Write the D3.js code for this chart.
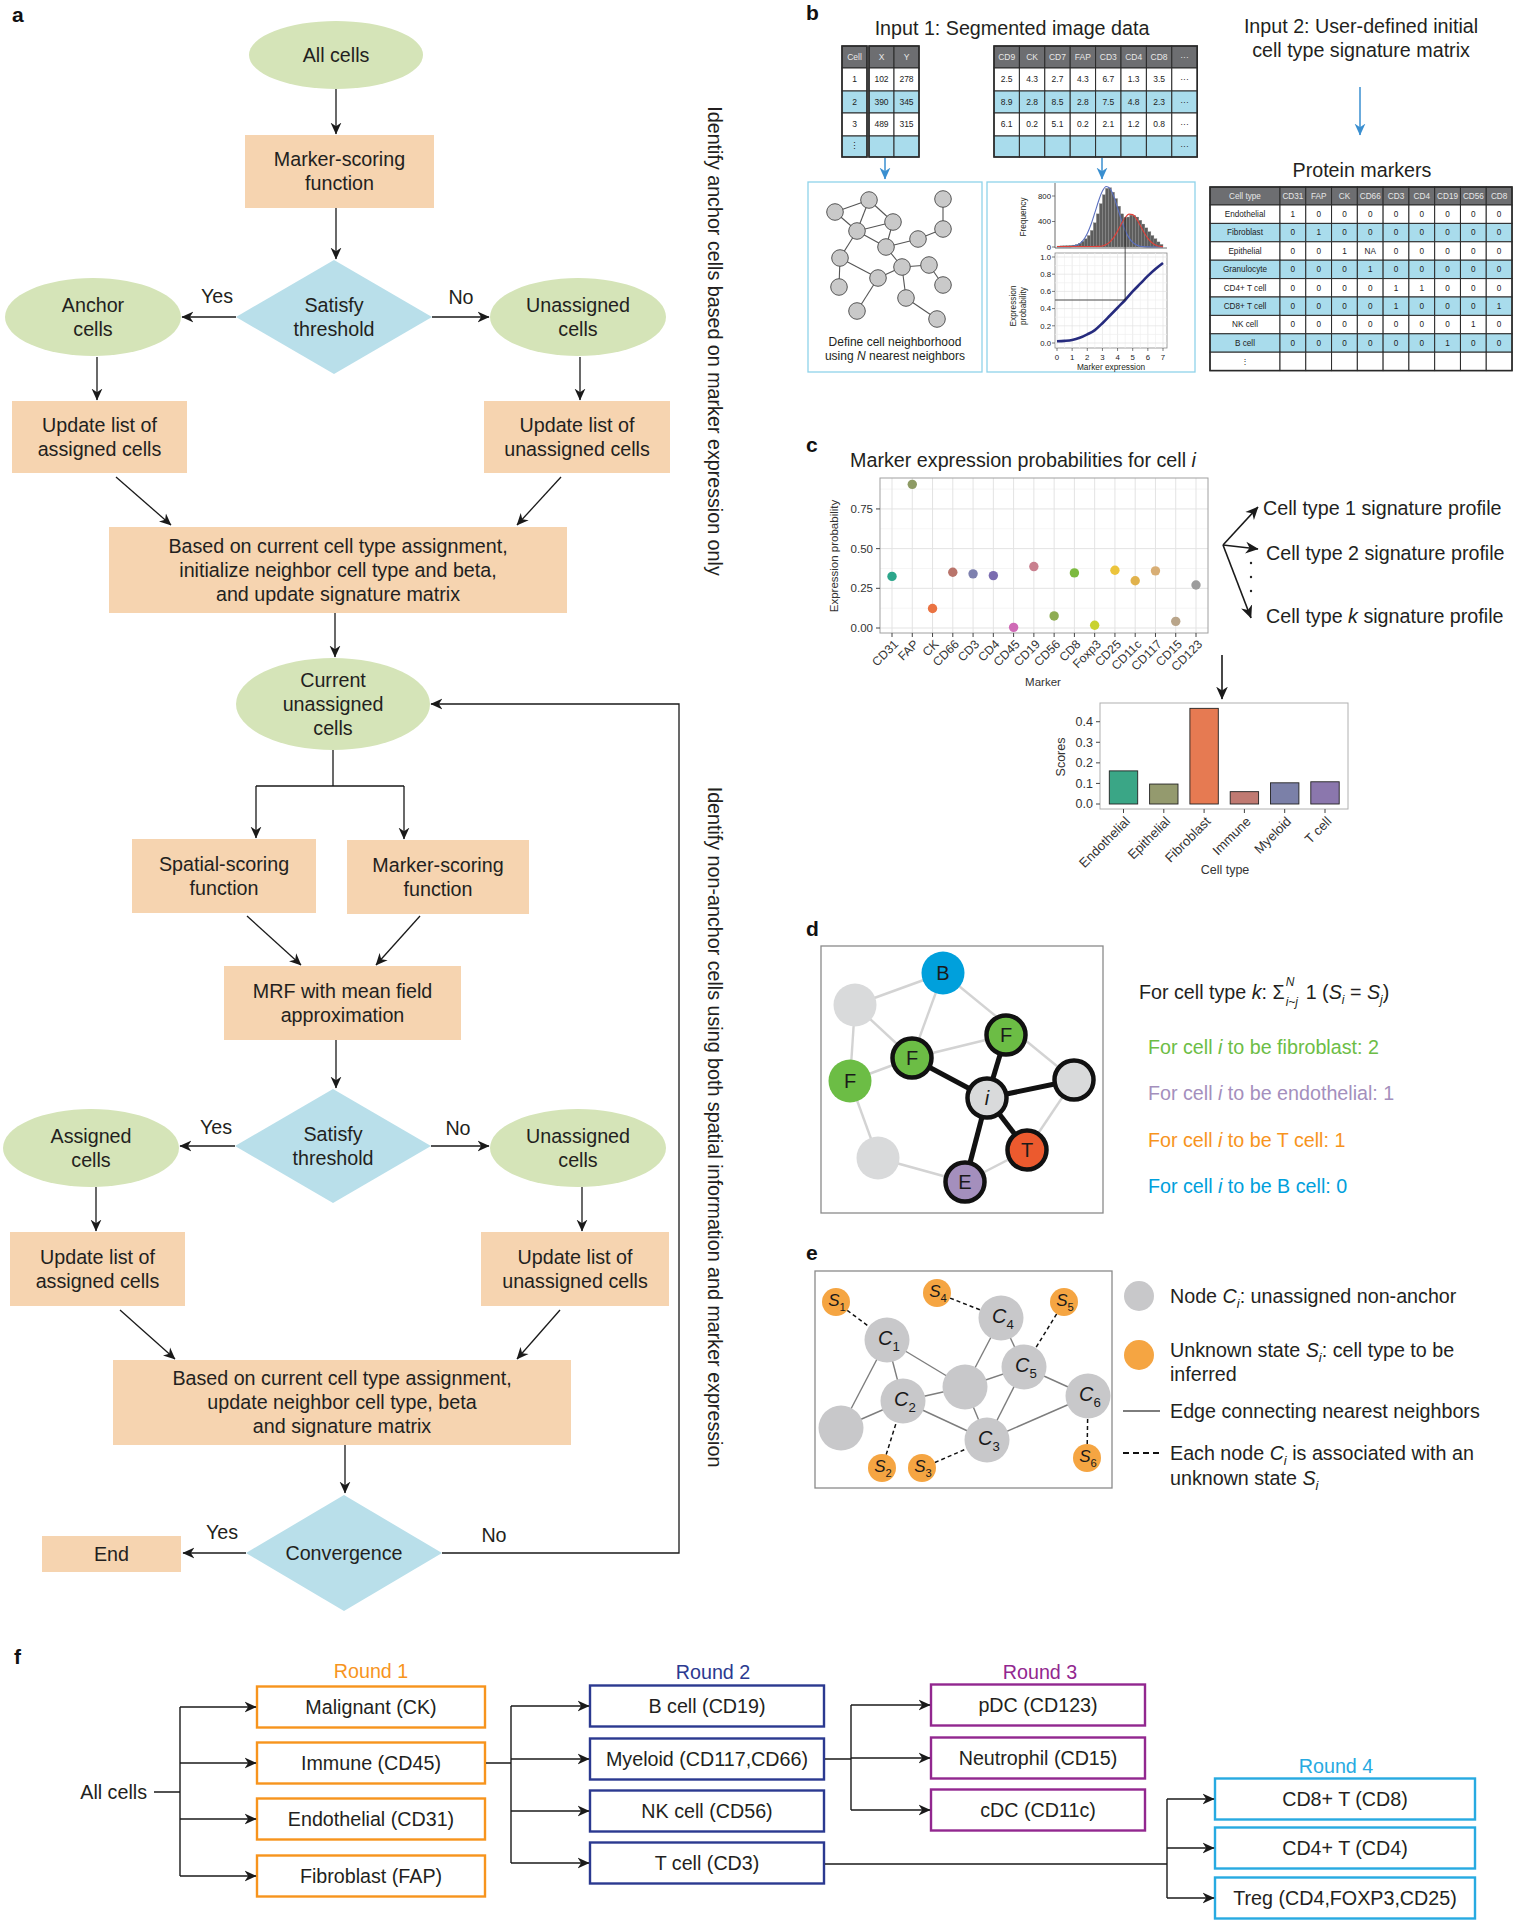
<!DOCTYPE html>
<html><head><meta charset="utf-8">
<script src="https://cdn.jsdelivr.net/npm/d3@7"></script>
<style>body{margin:0;background:#fff}svg{display:block}text{font-family:"Liberation Sans",Arial,Helvetica,sans-serif}</style>
</head><body><svg id="fig" width="1514" height="1920"></svg>
<script>
// ================= DATA =================
const segCellIds = ["1","2","3"];
const segXY = [[102,278],[390,345],[489,315]];
const segMarkers = ["CD9","CK","CD7","FAP","CD3","CD4","CD8","···"];
const segValues = [[2.5,4.3,2.7,4.3,6.7,1.3,3.5],[8.9,2.8,8.5,2.8,7.5,4.8,2.3],[6.1,0.2,5.1,0.2,2.1,1.2,0.8]];
const sigMarkers = ["CD31","FAP","CK","CD66","CD3","CD4","CD19","CD56","CD8"];
const sigTypes = ["Endothelial","Fibroblast","Epithelial","Granulocyte","CD4+ T cell","CD8+ T cell","NK cell","B cell"];
const sigMatrix = [
  ["1","0","0","0","0","0","0","0","0"],
  ["0","1","0","0","0","0","0","0","0"],
  ["0","0","1","NA","0","0","0","0","0"],
  ["0","0","0","1","0","0","0","0","0"],
  ["0","0","0","0","1","1","0","0","0"],
  ["0","0","0","0","1","0","0","0","1"],
  ["0","0","0","0","0","0","0","1","0"],
  ["0","0","0","0","0","0","1","0","0"]];
const histStarts = [0,0.2,0.4,0.6,0.8,1.0,1.2,1.4,1.6,1.8,2.0,2.2,2.4,2.6,2.8,3.0,3.2,3.4,3.6,3.8,4.0,4.2,4.4,4.6,4.8,5.0,5.2,5.4,5.6,5.8,6.0,6.2,6.4,6.6,6.8];
const histCounts = [15,18,20,22,25,30,40,60,90,130,180,260,380,520,680,820,920,930,860,760,640,520,460,470,500,495,470,420,360,300,240,180,130,80,40];
const fitX = [0,0.25,0.5,0.75,1,1.25,1.5,1.75,2,2.25,2.5,2.75,3,3.25,3.5,3.75,4,4.25,4.5,4.75,5,5.25,5.5,5.75,6,6.25,6.5,6.75,7];
const blueFit = [4,4,5,6,10,23,53,112,212,356,538,726,877,948,917,794,614,426,264,147,73,32,13,5,2,1,1,1,1];
const redFit = [8,8,8,8,8,8,8,8,8,8,9,10,16,38,81,151,249,360,459,515,508,442,338,227,135,70,32,13,6];
const probX = [0,0.5,1,1.5,2,2.5,3,3.5,4,4.5,5,5.5,6,6.5,7];
const probY = [0.02,0.025,0.035,0.06,0.1,0.15,0.23,0.32,0.41,0.5,0.6,0.69,0.78,0.86,0.93];
const markers = ["CD31","FAP","CK","CD66","CD3","CD4","CD45","CD19","CD56","CD8","Foxp3","CD25","CD11c","CD117","CD15","CD123"];
const markerProb = [0.325,0.905,0.123,0.351,0.341,0.330,0.004,0.387,0.076,0.347,0.017,0.364,0.298,0.360,0.042,0.271];
const markerColors = ["#2ca68b","#8d9a64","#ea7343","#b9746b","#7d80ae","#7b6cb0","#cf6ab6","#c9808f","#8eac52","#7cba3f","#c9d22e","#ecc43b","#e1b24c","#d8ae75","#b9a58a","#9c9c9c"];
const scoreTypes = ["Endothelial","Epithelial","Fibroblast","Immune","Myeloid","T cell"];
const scores = [0.161,0.097,0.465,0.060,0.103,0.108];
const scoreColors = ["#3aa686","#949a6e","#e67a52","#c07a72","#7b80a8","#8b77ad"];
const dCounts = [["fibroblast",2],["endothelial",1],["T cell",1],["B cell",0]];
const dColors = ["#6cbd45","#a48fbd","#f7941d","#00a0dc"];
const round1 = ["Malignant (CK)","Immune (CD45)","Endothelial (CD31)","Fibroblast (FAP)"];
const round2 = ["B cell (CD19)","Myeloid (CD117,CD66)","NK cell (CD56)","T cell (CD3)"];
const round3 = ["pDC (CD123)","Neutrophil (CD15)","cDC (CD11c)"];
const round4 = ["CD8+ T (CD8)","CD4+ T (CD4)","Treg (CD4,FOXP3,CD25)"];

// ================= HELPERS =================
const FS = 19.7;
const svg = d3.select("#fig");
svg.append("rect").attr("width",1514).attr("height",1920).attr("fill","#fff");
const defs = svg.append("defs");
function mkArrow(id,color,size){
  defs.append("marker").attr("id",id).attr("viewBox","0 0 10 10").attr("refX",9.5).attr("refY",5)
    .attr("markerWidth",size).attr("markerHeight",size).attr("markerUnits","userSpaceOnUse").attr("orient","auto")
    .append("path").attr("d","M0,0.5 L10,5 L0,9.5 L3,5 Z").attr("fill",color);
}
mkArrow("ah","#1a1a1a",12); mkArrow("ahb","#3a8fd0",12); mkArrow("ahs","#1a1a1a",13);
const TXT="#231f20";
function mtext(g,x,y,lines,o={}){
  const size=o.size||FS, lh=o.lh||24;
  const t=g.append("text").attr("x",x).attr("y",y).attr("text-anchor",o.anchor||"middle")
    .attr("font-size",size).attr("fill",o.fill||TXT);
  if(o.rotate!==undefined) t.attr("transform",`rotate(${o.rotate},${x},${y})`);
  const n=lines.length;
  lines.forEach((l,i)=>t.append("tspan").attr("x",x).attr("y",y+(i-(n-1)/2)*lh).attr("dy","0.35em").text(l));
  return t;
}
function arrow(g,pts,o={}){
  return g.append("path").attr("d",d3.line()(pts)).attr("fill","none").attr("stroke",o.color||"#1a1a1a")
    .attr("stroke-width",o.w||1.3).attr("marker-end",`url(#${o.marker||"ah"})`);
}
function label(x,y,s){ svg.append("text").attr("x",x).attr("y",y).attr("font-size",21).attr("font-weight","bold").attr("fill","#111").text(s); }

// ================= PANEL A =================
const ga = svg.append("g");
const peach="#f6d4b0", lgreen="#d5e4b8", lblue="#b9dfea";
function rectNode(x,y,w,h,lines){ ga.append("rect").attr("x",x).attr("y",y).attr("width",w).attr("height",h).attr("fill",peach); mtext(ga,x+w/2,y+h/2,lines); }
function ellNode(cx,cy,rx,ry,lines){ ga.append("ellipse").attr("cx",cx).attr("cy",cy).attr("rx",rx).attr("ry",ry).attr("fill",lgreen); mtext(ga,cx,cy,lines); }
function diaNode(cx,cy,hw,hh,lines){ ga.append("path").attr("d",`M${cx},${cy-hh}L${cx+hw},${cy}L${cx},${cy+hh}L${cx-hw},${cy}Z`).attr("fill",lblue); mtext(ga,cx,cy,lines); }
label(12,22,"a");
ellNode(336,55,87,34,["All cells"]);
rectNode(245,135,189,73,["Marker-scoring","function"]);
diaNode(334,317,98,57,["Satisfy","threshold"]);
ellNode(93,317,88,39,["Anchor","cells"]);
ellNode(578,317,88,39,["Unassigned","cells"]);
rectNode(12,401,175,72,["Update list of","assigned cells"]);
rectNode(484,401,186,72,["Update list of","unassigned cells"]);
rectNode(109,527,458,86,["Based on current cell type assignment,","initialize neighbor cell type and beta,","and update signature matrix"]);
ellNode(333,704,97,46,["Current","unassigned","cells"]);
rectNode(132,839,184,74,["Spatial-scoring","function"]);
rectNode(347,840,182,74,["Marker-scoring","function"]);
rectNode(224,966,237,74,["MRF with mean field","approximation"]);
diaNode(333,1146,98,57,["Satisfy","threshold"]);
ellNode(91,1148,88,39,["Assigned","cells"]);
ellNode(578,1148,88,39,["Unassigned","cells"]);
rectNode(10,1232,175,74,["Update list of","assigned cells"]);
rectNode(481,1232,188,74,["Update list of","unassigned cells"]);
rectNode(113,1360,458,85,["Based on current cell type assignment,","update neighbor cell type, beta","and signature matrix"]);
diaNode(344,1553,98,58,["Convergence"]);
rectNode(42,1536,139,36,["End"]);
mtext(ga,217,296,["Yes"]); mtext(ga,461,297,["No"]);
mtext(ga,216,1127,["Yes"]); mtext(ga,458,1128,["No"]);
mtext(ga,222,1532,["Yes"]); mtext(ga,494,1535,["No"]);
arrow(ga,[[336,89],[336,134]]);
arrow(ga,[[336,208],[336,259]]);
arrow(ga,[[236,317],[182,317]]);
arrow(ga,[[432,317],[489,317]]);
arrow(ga,[[97,357],[97,400]]);
arrow(ga,[[580,357],[580,400]]);
arrow(ga,[[116,477],[171,525]]);
arrow(ga,[[561,477],[517,525]]);
arrow(ga,[[335,613],[335,657]]);
ga.append("path").attr("d","M333,750V786M256,786H404").attr("stroke","#1a1a1a").attr("stroke-width",1.3).attr("fill","none");
arrow(ga,[[256,786],[256,838]]);
arrow(ga,[[404,786],[404,839]]);
arrow(ga,[[247,916],[301,965]]);
arrow(ga,[[420,916],[376,965]]);
arrow(ga,[[336,1040],[336,1088]]);
arrow(ga,[[235,1146],[180,1146]]);
arrow(ga,[[431,1146],[489,1146]]);
arrow(ga,[[96,1187],[96,1231]]);
arrow(ga,[[582,1187],[582,1231]]);
arrow(ga,[[120,1310],[175,1359]]);
arrow(ga,[[560,1310],[517,1359]]);
arrow(ga,[[345,1445],[345,1493]]);
arrow(ga,[[246,1553],[183,1553]]);
arrow(ga,[[442,1553],[679,1553],[679,704],[431,704]]);
mtext(ga,715,341,["Identify anchor cells based on marker expression only"],{rotate:90});
mtext(ga,715,1127,["Identify non-anchor cells using both spatial information and marker expression"],{rotate:90});

// ================= PANEL B =================
const gb = svg.append("g");
label(806,20,"b");
mtext(gb,1012,28,["Input 1: Segmented image data"]);
mtext(gb,1361,38,["Input 2: User-defined initial","cell type signature matrix"],{lh:24});
mtext(gb,1362,170,["Protein markers"]);
arrow(gb,[[1360,87],[1360,135]],{color:"#3a8fd0",marker:"ahb",w:1.5});
const hdrFill="#6d6e71", rowBlue="#a9dcec", gridC="#2a2a2a";
const rowsY=[46,68,91,113,136,157];
function drawTable(g,xEdges,yEdges,header,rows,blueRows,o={}){
  const fs=o.fs||8.5;
  yEdges.slice(0,-1).forEach((y0,ri)=>{
    const y1=yEdges[ri+1];
    xEdges.slice(0,-1).forEach((x0,ci)=>{
      const x1=xEdges[ci+1];
      const fill = ri===0?hdrFill:(blueRows.includes(ri)?rowBlue:"#fff");
      g.append("rect").attr("x",x0).attr("y",y0).attr("width",x1-x0).attr("height",y1-y0).attr("fill",fill).attr("stroke",gridC).attr("stroke-width",1);
      const txt = ri===0?header[ci]:(rows[ri-1]?rows[ri-1][ci]:"");
      if(txt) g.append("text").attr("x",(x0+x1)/2).attr("y",(y0+y1)/2).attr("dy","0.35em").attr("text-anchor","middle")
        .attr("font-size",fs).attr("fill",ri===0?"#e8e8e8":"#222").text(txt);
    });
  });
  g.append("rect").attr("x",xEdges[0]).attr("y",yEdges[0]).attr("width",xEdges[xEdges.length-1]-xEdges[0]).attr("height",yEdges[yEdges.length-1]-yEdges[0]).attr("fill","none").attr("stroke",gridC).attr("stroke-width",1.6);
}
drawTable(gb,[842,867],rowsY,["Cell"],segCellIds.map(d=>[d]).concat([["⋮"]]),[2,4],{fs:8.5});
drawTable(gb,[869,894,919],rowsY,["X","Y"],segXY.map(r=>r.map(String)).concat([["",""]]),[2,4],{fs:8.5});
const fmt1=d3.format(".1f");
const segX=d3.range(9).map(i=>994+i*25.4);
drawTable(gb,segX,rowsY,segMarkers,segValues.map(r=>r.map(fmt1).concat(["···"])).concat([["","","","","","","","···"]]),[2,4],{fs:8.5});
arrow(gb,[[885,158],[885,179]],{color:"#3a8fd0",marker:"ahb",w:1.5});
arrow(gb,[[1102,158],[1102,179]],{color:"#3a8fd0",marker:"ahb",w:1.5});
const sigX=[1210,1280].concat(d3.range(1,10).map(i=>1280+i*25.78));
const sigY=[187].concat(d3.range(0,10).map(i=>205+i*18.4));
drawTable(gb,sigX,sigY,["Cell type"].concat(sigMarkers),sigTypes.map((t,i)=>[t].concat(sigMatrix[i])).concat([["⋮","","","","","","","","",""]]),[2,4,6,8],{fs:8.2});
gb.append("rect").attr("x",808).attr("y",182).attr("width",174).attr("height",190).attr("fill","none").attr("stroke","#8fd3ea").attr("stroke-width",1.3);
gb.append("rect").attr("x",987).attr("y",182).attr("width",208).attr("height",190).attr("fill","none").attr("stroke","#8fd3ea").attr("stroke-width",1.3);
const netNodes=[[835,212],[869,200],[893,222],[857,231],[943,199],[943,229],[918,239],[886,247],[840,258],[902,267],[929,265],[878,278],[943,285],[839,287],[906,298],[857,311],[937,319]];
const netEdges=[[0,1],[0,3],[1,3],[1,2],[3,2],[3,7],[2,7],[7,6],[6,5],[4,5],[7,9],[8,3],[8,11],[9,11],[9,10],[9,14],[8,13],[15,11],[14,16],[10,12]];
gb.selectAll(".ne").data(netEdges).enter().append("line").attr("x1",d=>netNodes[d[0]][0]).attr("y1",d=>netNodes[d[0]][1])
  .attr("x2",d=>netNodes[d[1]][0]).attr("y2",d=>netNodes[d[1]][1]).attr("stroke","#555").attr("stroke-width",1.1);
gb.selectAll(".nn").data(netNodes).enter().append("circle").attr("cx",d=>d[0]).attr("cy",d=>d[1]).attr("r",8.3).attr("fill","#c9c9c9").attr("stroke","#555").attr("stroke-width",1);
gb.append("text").attr("x",895).attr("y",342).attr("dy","0.35em").attr("text-anchor","middle").attr("font-size",12).attr("fill",TXT).text("Define cell neighborhood");
const un=gb.append("text").attr("x",895).attr("y",356).attr("dy","0.35em").attr("text-anchor","middle").attr("font-size",12).attr("fill",TXT);
un.append("tspan").text("using "); un.append("tspan").attr("font-style","italic").text("N"); un.append("tspan").text(" nearest neighbors");
const xE=d3.scaleLinear([0,7],[1057,1163]);
const yF=d3.scaleLinear([0,800],[247,196]);
const yP=d3.scaleLinear([0,1],[343,257]);
const gp=gb.append("g");
gp.append("rect").attr("x",1055).attr("y",253).attr("width",112).attr("height",95).attr("fill","#fff").attr("stroke","#888").attr("stroke-width",0.8);
d3.range(0,7.01,0.5).forEach(v=>gp.append("line").attr("x1",xE(v)).attr("x2",xE(v)).attr("y1",253).attr("y2",348).attr("stroke",v%1===0?"#e2e2e2":"#efefef").attr("stroke-width",0.7));
d3.range(0,1.01,0.1).forEach((v,i)=>gp.append("line").attr("x1",1055).attr("x2",1167).attr("y1",yP(v)).attr("y2",yP(v)).attr("stroke",i%2===0?"#e2e2e2":"#efefef").attr("stroke-width",0.7));
gp.selectAll(".hb").data(histStarts).enter().append("rect").attr("x",d=>xE(d)).attr("width",xE(0.2)-xE(0)).attr("y",(d,i)=>yF(histCounts[i])).attr("height",(d,i)=>247-yF(histCounts[i])).attr("fill","#5d5d5d").attr("stroke","#8a8a8a").attr("stroke-width",0.3);
const lineF=d3.line().x((d,i)=>xE(fitX[i])).y(d=>yF(d)).curve(d3.curveMonotoneX);
gp.append("path").attr("d",lineF(blueFit)).attr("fill","none").attr("stroke","#5a6fc0").attr("stroke-width",1.1);
gp.append("path").attr("d",lineF(redFit)).attr("fill","none").attr("stroke","#e0413a").attr("stroke-width",1.1);
gp.append("line").attr("x1",1055).attr("x2",1055).attr("y1",183).attr("y2",248).attr("stroke","#444").attr("stroke-width",0.8);
gp.append("line").attr("x1",1055).attr("x2",1167).attr("y1",248).attr("y2",248).attr("stroke","#444").attr("stroke-width",0.8);
[0,400,800].forEach(v=>{gp.append("line").attr("x1",1052).attr("x2",1055).attr("y1",yF(v)).attr("y2",yF(v)).attr("stroke","#444").attr("stroke-width",0.7);
  gp.append("text").attr("x",1051).attr("y",yF(v)).attr("dy","0.35em").attr("text-anchor","end").attr("font-size",7.8).attr("fill","#222").text(v);});
d3.range(0,1.01,0.2).forEach(v=>{gp.append("line").attr("x1",1052).attr("x2",1055).attr("y1",yP(v)).attr("y2",yP(v)).attr("stroke","#444").attr("stroke-width",0.7);
  gp.append("text").attr("x",1051).attr("y",yP(v)).attr("dy","0.35em").attr("text-anchor","end").attr("font-size",7.8).attr("fill","#222").text(d3.format(".1f")(v));});
d3.range(0,8).forEach(v=>{gp.append("line").attr("x1",xE(v)).attr("x2",xE(v)).attr("y1",348).attr("y2",351).attr("stroke","#444").attr("stroke-width",0.7);
  gp.append("text").attr("x",xE(v)).attr("y",357).attr("dy","0.35em").attr("text-anchor","middle").attr("font-size",7.8).attr("fill","#222").text(v);});
gp.append("path").attr("d",d3.line().x((d,i)=>xE(probX[i])).y(d=>yP(d)).curve(d3.curveMonotoneX)(probY)).attr("fill","none").attr("stroke","#262b7e").attr("stroke-width",2.6);
gp.append("path").attr("d",`M1055,${yP(0.5)}H${xE(4.5)}V${yF(470)}`).attr("fill","none").attr("stroke","#222").attr("stroke-width",0.8);
mtext(gp,1111,367,["Marker expression"],{size:8.3});
mtext(gp,1023,217,["Frequency"],{size:8.3,rotate:-90});
mtext(gp,1018,306,["Expression","probability"],{size:8.3,lh:10,rotate:-90});

// ================= PANEL C =================
const gc=svg.append("g");
label(806,452,"c");
const ct=gc.append("text").attr("x",1023).attr("y",460).attr("dy","0.35em").attr("text-anchor","middle").attr("font-size",FS).attr("fill",TXT);
ct.append("tspan").text("Marker expression probabilities for cell "); ct.append("tspan").attr("font-style","italic").text("i");
const xM=d3.scalePoint().domain(markers).range([892,1196]);
const yM=d3.scaleLinear().domain([-0.0315,0.945]).range([633,478]);
gc.append("rect").attr("x",880).attr("y",478).attr("width",328).attr("height",155).attr("fill","#fff");
d3.range(0.125,0.95,0.25).forEach(v=>gc.append("line").attr("x1",880).attr("x2",1208).attr("y1",yM(v)).attr("y2",yM(v)).attr("stroke","#f2f2f2").attr("stroke-width",0.8));
[0,0.25,0.5,0.75].forEach(v=>gc.append("line").attr("x1",880).attr("x2",1208).attr("y1",yM(v)).attr("y2",yM(v)).attr("stroke","#e3e3e3").attr("stroke-width",1));
markers.forEach(m=>gc.append("line").attr("x1",xM(m)).attr("x2",xM(m)).attr("y1",478).attr("y2",633).attr("stroke","#e3e3e3").attr("stroke-width",1));
gc.append("rect").attr("x",880).attr("y",478).attr("width",328).attr("height",155).attr("fill","none").attr("stroke","#a0a0a0").attr("stroke-width",1);
gc.selectAll(".pt").data(markers).enter().append("circle").attr("cx",d=>xM(d)).attr("cy",(d,i)=>yM(markerProb[i])).attr("r",4.7).attr("fill",(d,i)=>markerColors[i]);
[0,0.25,0.5,0.75].forEach(v=>{gc.append("line").attr("x1",876).attr("x2",880).attr("y1",yM(v)).attr("y2",yM(v)).attr("stroke","#444");
  gc.append("text").attr("x",873).attr("y",yM(v)).attr("dy","0.35em").attr("text-anchor","end").attr("font-size",11.5).attr("fill","#333").text(d3.format(".2f")(v));});
markers.forEach(m=>{gc.append("line").attr("x1",xM(m)).attr("x2",xM(m)).attr("y1",633).attr("y2",637).attr("stroke","#444");
  gc.append("text").attr("x",xM(m)+4).attr("y",642).attr("dy","0.35em").attr("text-anchor","end").attr("font-size",12.2).attr("fill","#333")
   .attr("transform",`rotate(-45,${xM(m)+4},642)`).text(m);});
mtext(gc,1043,682,["Marker"],{size:11.5,fill:"#333"});
mtext(gc,834,556,["Expression probability"],{size:11.5,fill:"#333",rotate:-90});
arrow(gc,[[1223,545],[1258,507]],{marker:"ahs",w:1.6});
arrow(gc,[[1223,545],[1258,549]],{marker:"ahs",w:1.6});
arrow(gc,[[1223,545],[1251,618]],{marker:"ahs",w:1.6});
[563,577,591].forEach(y=>gc.append("circle").attr("cx",1251).attr("cy",y).attr("r",1.2).attr("fill","#222"));
function profText(x,y,pre,it,post){const t=gc.append("text").attr("x",x).attr("y",y).attr("dy","0.35em").attr("font-size",FS).attr("fill",TXT);
  t.append("tspan").text(pre); if(it){t.append("tspan").attr("font-style","italic").text(it);} if(post) t.append("tspan").text(post);}
profText(1263,508,"Cell type 1 signature profile","","");
profText(1266,553,"Cell type 2 signature profile","","");
profText(1266,616,"Cell type ","k"," signature profile");
arrow(gc,[[1222,655],[1222,699]],{marker:"ahs",w:1.6});
const xB=d3.scalePoint().domain(scoreTypes).range([1123.5,1325]);
const yB=d3.scaleLinear().domain([-0.0243,0.491]).range([809,703]);
gc.append("rect").attr("x",1100).attr("y",703).attr("width",248).attr("height",106).attr("fill","#fff").attr("stroke","#b0b0b0").attr("stroke-width",1);
gc.selectAll(".bar").data(scoreTypes).enter().append("rect").attr("x",d=>xB(d)-14.2).attr("width",28.4).attr("y",(d,i)=>yB(scores[i])).attr("height",(d,i)=>yB(0)-yB(scores[i])).attr("fill",(d,i)=>scoreColors[i]).attr("stroke","#222").attr("stroke-width",0.9);
[0,0.1,0.2,0.3,0.4].forEach(v=>{gc.append("line").attr("x1",1096).attr("x2",1100).attr("y1",yB(v)).attr("y2",yB(v)).attr("stroke","#444");
  gc.append("text").attr("x",1093).attr("y",yB(v)).attr("dy","0.35em").attr("text-anchor","end").attr("font-size",12.5).attr("fill","#333").text(d3.format(".1f")(v));});
scoreTypes.forEach(m=>{gc.append("line").attr("x1",xB(m)).attr("x2",xB(m)).attr("y1",809).attr("y2",813).attr("stroke","#444");
  gc.append("text").attr("x",xB(m)+4).attr("y",819).attr("dy","0.35em").attr("text-anchor","end").attr("font-size",13.2).attr("fill","#333")
   .attr("transform",`rotate(-45,${xB(m)+4},819)`).text(m);});
mtext(gc,1225,870,["Cell type"],{size:12.5,fill:"#333"});
mtext(gc,1061,757,["Scores"],{size:12.5,fill:"#333",rotate:-90});

// ================= PANEL D =================
const gd=svg.append("g");
label(806,936,"d");
gd.append("rect").attr("x",821).attr("y",946).attr("width",282).attr("height",267).attr("fill","#fff").attr("stroke","#8a8a8a").attr("stroke-width",1.3);
const dNodes={B:[943,973],g1:[855,1005],F1:[912,1058],F2:[1006,1035],F3:[850,1081],i:[987,1098],g2:[1074,1080],T:[1027,1150],E:[965,1182],g3:[878,1158]};
const dLight=[["g1","B"],["g1","F1"],["g1","F3"],["B","F1"],["B","g2"],["F1","F2"],["F3","F1"],["F3","g3"],["g3","E"],["E","T"],["T","g2"]];
const dBold=[["i","F1"],["i","F2"],["i","g2"],["i","T"],["i","E"]];
dLight.forEach(e=>gd.append("line").attr("x1",dNodes[e[0]][0]).attr("y1",dNodes[e[0]][1]).attr("x2",dNodes[e[1]][0]).attr("y2",dNodes[e[1]][1]).attr("stroke","#d3d3d3").attr("stroke-width",2.4));
dBold.forEach(e=>gd.append("line").attr("x1",dNodes[e[0]][0]).attr("y1",dNodes[e[0]][1]).attr("x2",dNodes[e[1]][0]).attr("y2",dNodes[e[1]][1]).attr("stroke","#111").attr("stroke-width",5));
const dSpec=[["B","#00a0dc",false,"B"],["g1","#d9dadb",false,""],["F1","#6cbd45",true,"F"],["F2","#6cbd45",true,"F"],["F3","#6cbd45",false,"F"],["i","#d9dadb",true,"i"],["g2","#d9dadb",true,""],["T","#ec5a2e",true,"T"],["E","#a48fbd",true,"E"],["g3","#d9dadb",false,""]];
dSpec.forEach(s=>{const p=dNodes[s[0]];
  gd.append("circle").attr("cx",p[0]).attr("cy",p[1]).attr("r",s[2]?19.5:21.5).attr("fill",s[1]).attr("stroke",s[2]?"#111":"none").attr("stroke-width",4.5);
  if(s[3]) gd.append("text").attr("x",p[0]).attr("y",p[1]).attr("dy","0.36em").attr("text-anchor","middle").attr("font-size",20).attr("fill","#1a1a1a").attr("font-style",s[3]==="i"?"italic":"normal").text(s[3]);});
const ft=gd.append("text").attr("x",1139).attr("y",992).attr("dy","0.35em").attr("font-size",FS).attr("fill",TXT);
ft.append("tspan").text("For cell type "); ft.append("tspan").attr("font-style","italic").text("k"); ft.append("tspan").text(":  Σ");
const fw=ft.node().getComputedTextLength();
gd.append("text").attr("x",1139+fw+1).attr("y",986).attr("font-size",12).attr("font-style","italic").attr("fill",TXT).text("N");
gd.append("text").attr("x",1139+fw+1).attr("y",1006).attr("font-size",12).attr("font-style","italic").attr("fill",TXT).text("i~j");
const ft2=gd.append("text").attr("x",1139+fw+21).attr("y",992).attr("dy","0.35em").attr("font-size",FS).attr("fill",TXT);
ft2.append("tspan").text("1 ("); ft2.append("tspan").attr("font-style","italic").text("S");
ft2.append("tspan").attr("font-size",12).attr("font-style","italic").attr("dy",5).text("i");
ft2.append("tspan").attr("dy",-5).text(" = "); ft2.append("tspan").attr("font-style","italic").text("S");
ft2.append("tspan").attr("font-size",12).attr("font-style","italic").attr("dy",5).text("j");
ft2.append("tspan").attr("dy",-5).text(")");
dCounts.forEach((c,k)=>{const t=gd.append("text").attr("x",1148).attr("y",1047+k*46.5).attr("dy","0.35em").attr("font-size",FS).attr("fill",dColors[k]);
  t.append("tspan").text("For cell "); t.append("tspan").attr("font-style","italic").text("i"); t.append("tspan").text(` to be ${c[0]}: ${c[1]}`);});

// ================= PANEL E =================
const ge=svg.append("g");
label(806,1260,"e");
ge.append("rect").attr("x",815).attr("y",1271).attr("width",297).attr("height",217).attr("fill","#fff").attr("stroke","#8a8a8a").attr("stroke-width",1.3);
const eC={C1:[887,1340],C2:[903,1401],C3:[987,1440],C4:[1001,1318],C5:[1024,1367],C6:[1088,1396],M:[965,1387],L:[841,1428]};
const eS={S1:[836,1302],S2:[882,1468],S3:[922,1468],S4:[937,1293],S5:[1064,1302],S6:[1087,1458]};
const eEdges=[["C1","C2"],["C1","L"],["C1","M"],["C2","L"],["C2","M"],["C2","C3"],["M","C4"],["M","C5"],["M","C3"],["C4","C5"],["C5","C3"],["C5","C6"],["C6","C3"]];
eEdges.forEach(e=>ge.append("line").attr("x1",eC[e[0]][0]).attr("y1",eC[e[0]][1]).attr("x2",eC[e[1]][0]).attr("y2",eC[e[1]][1]).attr("stroke","#7d7d7d").attr("stroke-width",1.4));
[["S1","C1"],["S2","C2"],["S3","C3"],["S4","C4"],["S5","C5"],["S6","C6"]].forEach(e=>{
  const a=eS[e[0]],b=eC[e[1]];const dx=b[0]-a[0],dy=b[1]-a[1],L=Math.hypot(dx,dy);
  ge.append("line").attr("x1",a[0]+dx/L*14).attr("y1",a[1]+dy/L*14).attr("x2",b[0]-dx/L*22).attr("y2",b[1]-dy/L*22).attr("stroke","#111").attr("stroke-width",1.5).attr("stroke-dasharray","4,3");});
function subLabel(g,x,y,sym,sub,fs){const t=g.append("text").attr("x",x).attr("y",y).attr("dy","0.35em").attr("text-anchor","middle").attr("font-size",fs).attr("fill","#1a1a1a");
  t.append("tspan").attr("font-style","italic").text(sym); t.append("tspan").attr("font-size",fs*0.66).attr("dy",fs*0.3).text(sub);}
Object.entries(eC).forEach(([k,p])=>{ge.append("circle").attr("cx",p[0]).attr("cy",p[1]).attr("r",22.5).attr("fill","#c8c8ca");
  if(k[0]==="C") subLabel(ge,p[0]+2,p[1]-2,"C",k[1],20);});
Object.entries(eS).forEach(([k,p])=>{ge.append("circle").attr("cx",p[0]).attr("cy",p[1]).attr("r",14).attr("fill","#f5a542");
  subLabel(ge,p[0]+1,p[1]-2,"S",k[1],17);});
ge.append("circle").attr("cx",1139).attr("cy",1296).attr("r",15).attr("fill","#c8c8ca");
ge.append("circle").attr("cx",1139).attr("cy",1355).attr("r",15).attr("fill","#f5a542");
ge.append("line").attr("x1",1123).attr("x2",1160).attr("y1",1411).attr("y2",1411).attr("stroke","#7d7d7d").attr("stroke-width",1.8);
ge.append("line").attr("x1",1123).attr("x2",1160).attr("y1",1453).attr("y2",1453).attr("stroke","#111").attr("stroke-width",1.8).attr("stroke-dasharray","6,4");
function legLine(x,y,parts){const t=ge.append("text").attr("x",x).attr("y",y).attr("dy","0.35em").attr("font-size",FS).attr("fill",TXT);
  parts.forEach(p=>{const s=t.append("tspan").text(p.t); if(p.i) s.attr("font-style","italic"); if(p.sub) s.attr("font-size",13).attr("dy",5); if(p.up) s.attr("dy",-5);});}
legLine(1170,1296,[{t:"Node "},{t:"C",i:1},{t:"i",i:1,sub:1},{t:": unassigned non-anchor",up:1}]);
legLine(1170,1350,[{t:"Unknown state "},{t:"S",i:1},{t:"i",i:1,sub:1},{t:": cell  type to be",up:1}]);
legLine(1170,1374,[{t:"inferred"}]);
legLine(1170,1411,[{t:"Edge connecting nearest neighbors"}]);
legLine(1170,1453,[{t:"Each node "},{t:"C",i:1},{t:"i",i:1,sub:1},{t:" is associated with an",up:1}]);
legLine(1170,1478,[{t:"unknown state "},{t:"S",i:1},{t:"i",i:1,sub:1}]);

// ================= PANEL F =================
const gf=svg.append("g");
label(14,1664,"f");
function roundCol(names,x,w,ys,color,title,tx,ty){
  names.forEach((n,i)=>{gf.append("rect").attr("x",x).attr("y",ys[i]-20.5).attr("width",w).attr("height",41).attr("fill","#fff").attr("stroke",color).attr("stroke-width",2.4);
    mtext(gf,x+w/2,ys[i],[n]);});
  mtext(gf,tx,ty,[title],{fill:color});
}
const y1s=[1707,1763,1819,1876], y2s=[1706,1759,1811,1863], y3s=[1705,1758,1810], y4s=[1799,1848,1898];
roundCol(round1,257,228,y1s,"#f7941d","Round 1",371,1671);
roundCol(round2,590,234,y2s,"#2b3990","Round 2",713,1672);
roundCol(round3,931,214,y3s,"#92278f","Round 3",1040,1672);
roundCol(round4,1215,260,y4s,"#27aae1","Round 4",1336,1766);
mtext(gf,147,1792,["All cells"],{anchor:"end"});
const fl=(d)=>gf.append("path").attr("d",d).attr("fill","none").attr("stroke","#1a1a1a").attr("stroke-width",1.4);
fl(`M154,1792H180M180,${y1s[0]}V${y1s[3]}`);
y1s.forEach(y=>arrow(gf,[[180,y],[256,y]],{w:1.4}));
fl(`M486,1763H511M511,${y2s[0]}V${y2s[3]}`);
y2s.forEach(y=>arrow(gf,[[511,y],[589,y]],{w:1.4}));
fl(`M825,1759H851M851,${y3s[0]}V${y3s[2]}`);
y3s.forEach(y=>arrow(gf,[[851,y],[930,y]],{w:1.4}));
fl(`M825,1864H1167M1167,${y4s[0]}V${y4s[2]}`);
y4s.forEach(y=>arrow(gf,[[1167,y],[1214,y]],{w:1.4}));
</script></body></html>
